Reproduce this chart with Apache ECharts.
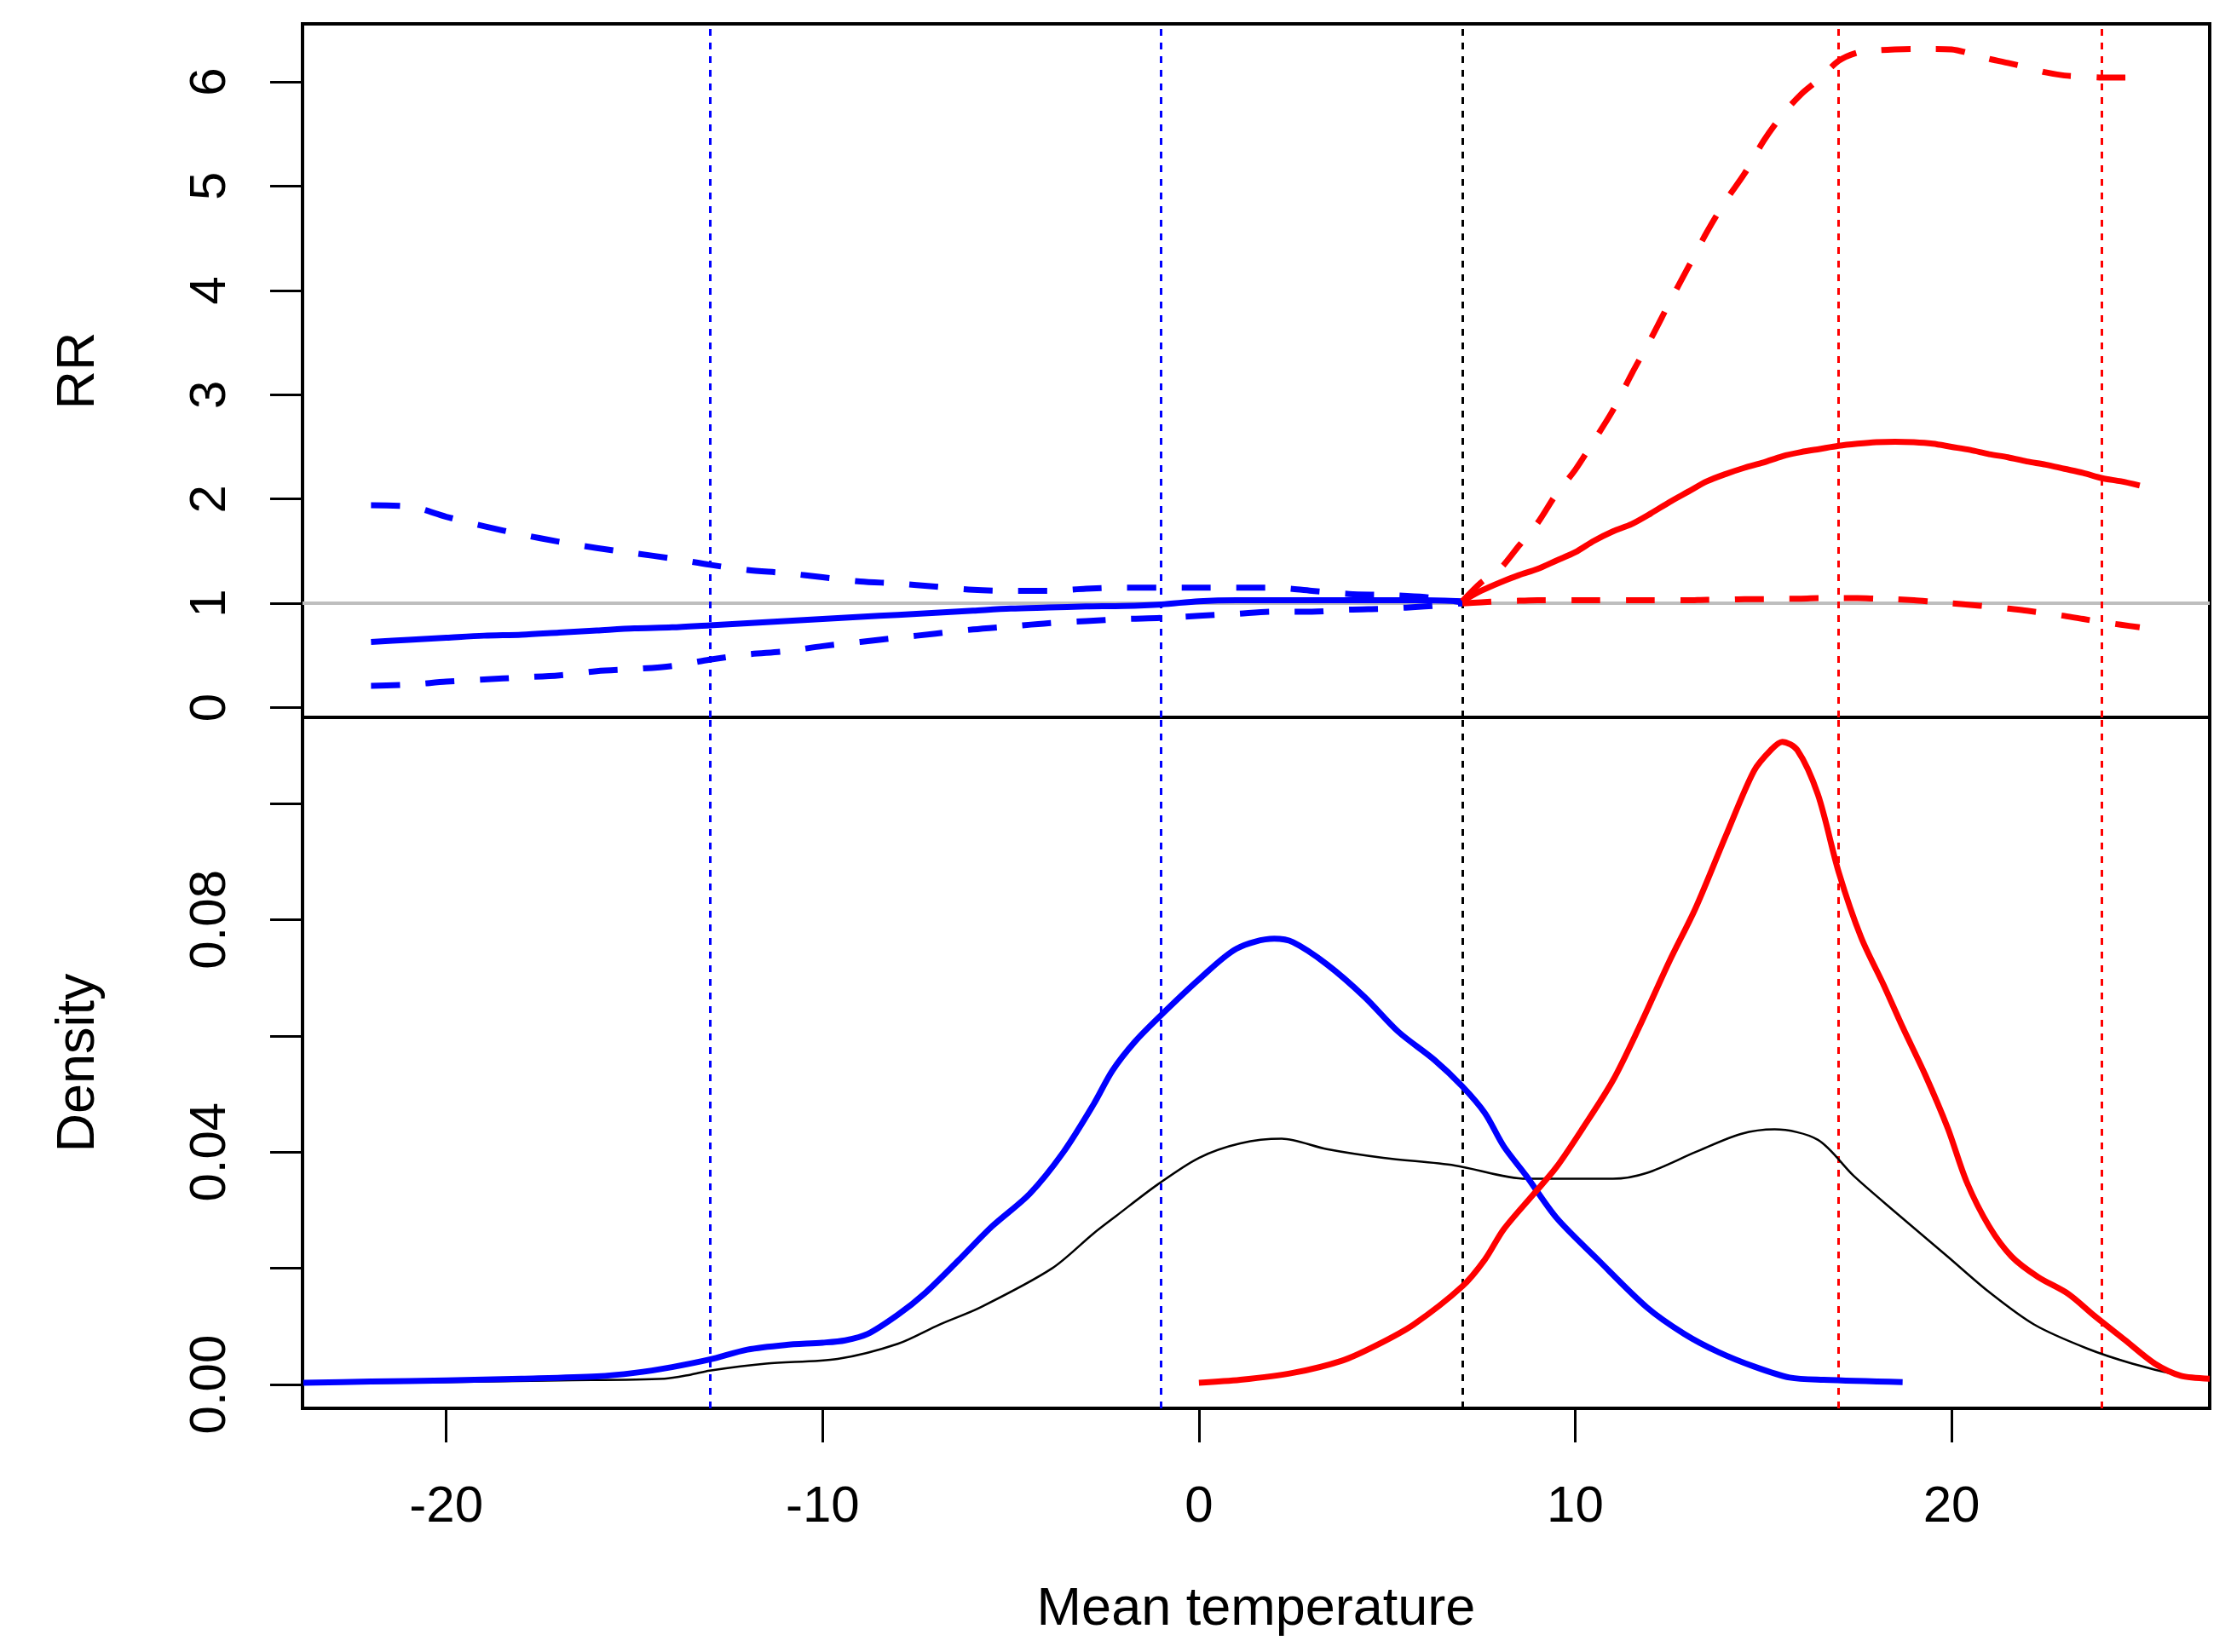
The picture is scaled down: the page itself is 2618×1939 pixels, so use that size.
<!DOCTYPE html>
<html>
<head>
<meta charset="utf-8">
<script src="https://cdn.jsdelivr.net/npm/echarts@6/dist/echarts.min.js"></script>
<style>
html,body{margin:0;padding:0;background:#fff;}
#chart{width:2618px;height:1939px;}
</style>
</head>
<body>
<div id="chart"></div>
<script>
// ---------- data ----------
const xTicks = [-20, -10, 0, 10, 20];
const rrTicks = [0, 1, 2, 3, 4, 5, 6];
const densTicks = [0, 0.02, 0.04, 0.06, 0.08, 0.10];
const densLabels = [0, 0.04, 0.08];

const coldCuts = [-13, -1];
const refTemp = [7];
const heatCuts = [17, 24];

// Cold season RR (blue)
const coldTemp = [-22,-21,-20,-19,-18,-17,-16,-15,-14,-13,-12,-11,-10,-9,-8,-7,-6,-5,-4,-3,-2,-1,0,1,2,3,4,5,6,7];
const coldRR   = [0.63,0.65,0.67,0.69,0.70,0.72,0.74,0.76,0.77,0.79,0.81,0.83,0.85,0.87,0.89,0.91,0.93,0.95,0.96,0.97,0.975,0.99,1.02,1.03,1.03,1.03,1.03,1.03,1.03,1.02];
const coldHigh = [1.94,1.93,1.83,1.74,1.66,1.59,1.53,1.48,1.43,1.37,1.32,1.29,1.25,1.21,1.19,1.16,1.13,1.12,1.12,1.14,1.15,1.15,1.15,1.15,1.15,1.12,1.09,1.08,1.06,1.01];
const coldLow  = [0.21,0.22,0.25,0.27,0.29,0.31,0.35,0.37,0.40,0.46,0.51,0.54,0.59,0.63,0.67,0.71,0.75,0.78,0.81,0.83,0.85,0.86,0.88,0.90,0.92,0.92,0.94,0.95,0.97,1.00];

// Heat season RR (red)
const heatTemp = [7,7.5,8,8.5,9,9.5,10,10.5,11,11.5,12,12.5,13,13.5,14,14.5,15,15.5,16,16.5,17,17.5,18,18.5,19,19.5,20,20.5,21,21.5,22,22.5,23,23.5,24,24.5,25];
const heatRR   = [1.02,1.12,1.20,1.27,1.33,1.41,1.49,1.60,1.69,1.76,1.86,1.97,2.07,2.17,2.24,2.30,2.35,2.41,2.45,2.48,2.51,2.53,2.545,2.55,2.545,2.53,2.50,2.47,2.43,2.40,2.36,2.33,2.29,2.25,2.20,2.17,2.13];
const heatHigh = [1.02,1.20,1.33,1.55,1.77,2.05,2.28,2.56,2.85,3.20,3.53,3.88,4.22,4.56,4.86,5.12,5.43,5.68,5.88,6.03,6.20,6.28,6.30,6.31,6.315,6.315,6.31,6.27,6.22,6.18,6.14,6.09,6.06,6.05,6.04,6.04,6.04];
const heatLow  = [1.00,1.01,1.02,1.025,1.03,1.03,1.03,1.03,1.03,1.03,1.03,1.03,1.03,1.035,1.035,1.04,1.04,1.045,1.045,1.05,1.05,1.05,1.045,1.04,1.03,1.015,1.00,0.985,0.97,0.95,0.93,0.905,0.88,0.85,0.82,0.795,0.77];

// Densities
const coldDensTemp = [-23.8,-22,-20,-18,-16,-15,-14,-13,-12,-11,-10,-9.4,-8.8,-8,-7.3,-6.4,-5.5,-4.5,-3.6,-2.8,-2.3,-1.7,-1,0,1,2,2.5,3.4,4.4,5.3,6.25,7,7.6,8.1,8.7,9.5,10.6,11.9,12.9,13.8,14.75,15.7,16.6,18.7];
const coldDens     = [0.0003,0.0005,0.0007,0.0010,0.0014,0.0020,0.0030,0.0043,0.0060,0.0068,0.0072,0.0076,0.0087,0.0120,0.0156,0.0213,0.0272,0.0328,0.0400,0.0482,0.0540,0.0590,0.0636,0.0697,0.0750,0.0767,0.0761,0.0723,0.0667,0.0607,0.0559,0.0513,0.0467,0.0410,0.0359,0.0287,0.0215,0.0133,0.0087,0.0056,0.0031,0.0012,0.0008,0.0004];

const heatDensTemp = [0,1.1,2.5,3.8,4.7,5.7,7,7.6,8.1,8.9,9.5,10.2,11,11.7,12.5,13.2,14,14.75,15.2,15.5,15.9,16.45,17,17.6,18.2,18.7,19.3,19.9,20.4,21,21.6,22.3,23.1,23.8,24.6,25.4,26.1,26.86];
const heatDens     = [0.0003,0.0008,0.0020,0.0041,0.0067,0.0103,0.0169,0.0215,0.0267,0.0328,0.0374,0.0441,0.0523,0.0615,0.0728,0.0820,0.0944,0.1056,0.1092,0.1106,0.1092,0.1015,0.0882,0.0769,0.0687,0.0615,0.0533,0.0441,0.0349,0.0272,0.0220,0.0185,0.0156,0.0118,0.0077,0.0036,0.0015,0.0010];

const allDensTemp = [-23.8,-20,-17,-14.2,-13.5,-13,-11.5,-9.6,-8,-6.9,-5.8,-3.9,-2.8,-2.2,-1.1,0,1.1,2.2,3.4,4.9,6.8,8.7,11,11.9,13.2,14.4,15.3,16.45,17.4,18.5,19.9,21,22.2,23.6,24.8,26.1,26.86];
const allDens     = [0.0002,0.0004,0.0007,0.0010,0.0017,0.0024,0.0036,0.0044,0.0070,0.0103,0.0133,0.0200,0.0260,0.0290,0.0344,0.0390,0.0415,0.0423,0.0405,0.0390,0.0377,0.0354,0.0354,0.0364,0.0400,0.0431,0.0439,0.0421,0.0359,0.0297,0.0220,0.0159,0.0103,0.0062,0.0036,0.0015,0.0008];

// ---------- chart ----------
const FONT = 'Liberation Sans, Arial, Helvetica, sans-serif';
const pairs = (xs, ys) => xs.map((x, i) => [x, ys[i]]);
const DASH = [34, 30];
const DOT = [8, 8];

function vLines() {
  const d = [];
  coldCuts.forEach(v => d.push({ xAxis: v, lineStyle: { color: '#0000ff' } }));
  refTemp.forEach(v => d.push({ xAxis: v, lineStyle: { color: '#000000' } }));
  heatCuts.forEach(v => d.push({ xAxis: v, lineStyle: { color: '#ff0000' } }));
  return d;
}

function lineSeries(name, xs, ys, color, width, type, gi) {
  return {
    name: name,
    type: 'line',
    xAxisIndex: gi, yAxisIndex: gi,
    data: pairs(xs, ys),
    showSymbol: false,
    symbol: 'none',
    smooth: 0.3,
    z: 4,
    clip: true,
    lineStyle: { color: color, width: width, type: type, cap: 'butt', join: 'round' },
    silent: true
  };
}

const chart = echarts.init(document.getElementById('chart'), null, { renderer: 'canvas' });

const tickStyle = { show: true, inside: false, length: 38, lineStyle: { color: '#000', width: 3 } };

const option = {
  animation: false,
  backgroundColor: '#ffffff',
  textStyle: { fontFamily: FONT },
  grid: [
    { left: 355, top: 28, width: 2238, height: 814, show: true, borderColor: '#000', borderWidth: 4, backgroundColor: 'transparent' },
    { left: 355, top: 842, width: 2238, height: 811, show: true, borderColor: '#000', borderWidth: 4, backgroundColor: 'transparent' }
  ],
  xAxis: [
    { type: 'value', gridIndex: 0, min: -23.82, max: 26.86, show: false, axisLine: { onZero: false }, splitLine: { show: false } },
    {
      type: 'value', gridIndex: 1, min: -23.82, max: 26.86, position: 'bottom',
      name: 'Mean temperature', nameLocation: 'middle', nameGap: 205,
      nameTextStyle: { fontSize: 63, color: '#000', fontFamily: FONT },
      axisLine: { show: false, onZero: false },
      splitLine: { show: false },
      axisTick: Object.assign({ customValues: xTicks }, tickStyle, { length: 40 }),
      axisLabel: { customValues: xTicks, fontSize: 60, color: '#000', margin: 86, fontFamily: FONT,
        formatter: v => String(v) }
    }
  ],
  yAxis: [
    {
      type: 'value', gridIndex: 0, min: -0.093, max: 6.555, position: 'left',
      name: 'RR', nameLocation: 'middle', nameRotate: 90, nameGap: 231,
      nameTextStyle: { fontSize: 63, color: '#000', fontFamily: FONT },
      axisLine: { show: false, onZero: false },
      splitLine: { show: false },
      axisTick: Object.assign({ customValues: rrTicks }, tickStyle),
      axisLabel: { customValues: rrTicks, rotate: 90, fontSize: 60, color: '#000', margin: 78, fontFamily: FONT,
        formatter: v => String(v) }
    },
    {
      type: 'value', gridIndex: 1, min: -0.0041, max: 0.1148, position: 'left',
      name: 'Density', nameLocation: 'middle', nameRotate: 90, nameGap: 231,
      nameTextStyle: { fontSize: 63, color: '#000', fontFamily: FONT },
      axisLine: { show: false, onZero: false },
      splitLine: { show: false },
      axisTick: Object.assign({ customValues: densTicks }, tickStyle),
      axisLabel: { customValues: densLabels, rotate: 90, fontSize: 60, color: '#000', margin: 78, fontFamily: FONT,
        formatter: v => v.toFixed(2) }
    }
  ],
  series: [
    {
      type: 'line', xAxisIndex: 0, yAxisIndex: 0, data: [], silent: true, z: 1,
      markLine: {
        silent: true, symbol: 'none', z: 1, animation: false,
        label: { show: false },
        lineStyle: { width: 3, type: DOT },
        data: [{ yAxis: 1, lineStyle: { color: '#bebebe', width: 4, type: 'solid' } }].concat(vLines())
      }
    },
    {
      type: 'line', xAxisIndex: 1, yAxisIndex: 1, data: [], silent: true, z: 1,
      markLine: {
        silent: true, symbol: 'none', z: 1, animation: false,
        label: { show: false },
        lineStyle: { width: 3, type: DOT },
        data: vLines()
      }
    },
    lineSeries('cold RR', coldTemp, coldRR, '#0000ff', 7, 'solid', 0),
    lineSeries('cold RR high', coldTemp, coldHigh, '#0000ff', 7, DASH, 0),
    lineSeries('cold RR low', coldTemp, coldLow, '#0000ff', 7, DASH, 0),
    lineSeries('heat RR', heatTemp, heatRR, '#ff0000', 7, 'solid', 0),
    lineSeries('heat RR high', heatTemp, heatHigh, '#ff0000', 7, DASH, 0),
    lineSeries('heat RR low', heatTemp, heatLow, '#ff0000', 7, DASH, 0),
    lineSeries('all density', allDensTemp, allDens, '#000000', 2.5, 'solid', 1),
    lineSeries('cold density', coldDensTemp, coldDens, '#0000ff', 7, 'solid', 1),
    lineSeries('heat density', heatDensTemp, heatDens, '#ff0000', 7, 'solid', 1)
  ]
};

chart.setOption(option);
</script>
</body>
</html>
